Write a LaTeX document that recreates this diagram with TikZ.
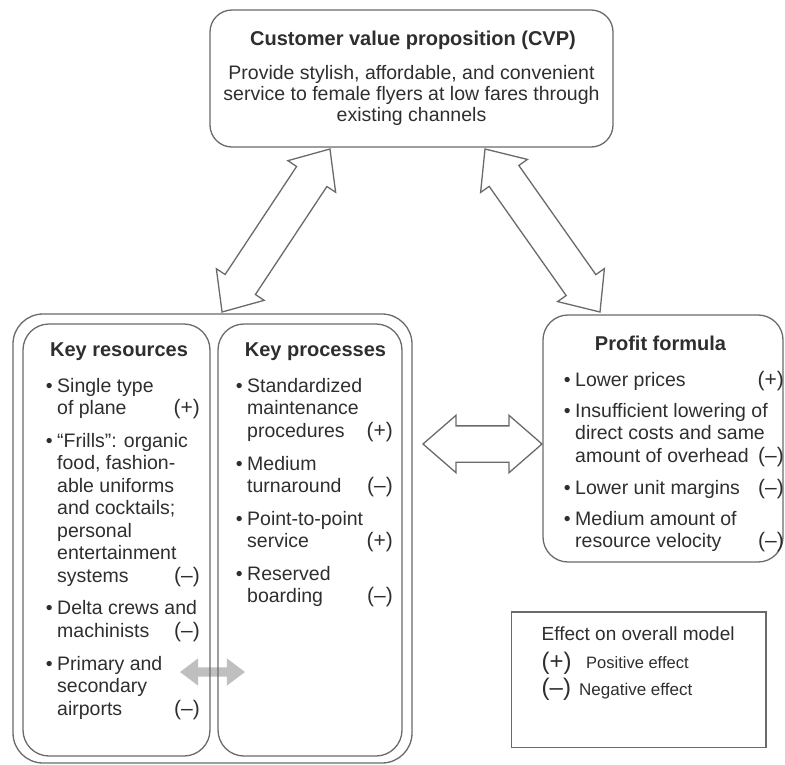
\documentclass[tikz,border=0pt]{standalone}
\usepackage{fontspec}
\setmainfont{Liberation Sans}
\usetikzlibrary{shapes.arrows}

% text colour and outline colour of the model
\definecolor{ink}{HTML}{2E2E2E}
\definecolor{rim}{HTML}{6A6A6A}

\tikzset{
  panel/.style={draw=rim, line width=1.3pt, rectangle, rounded corners=#1, inner sep=0pt},
  blockarrow/.style={double arrow, draw=rim, line width=1.3pt, fill=white,
    inner xsep=0pt, inner ysep=17.5pt,
    minimum width=56pt, double arrow head extend=10.5pt, double arrow tip angle=82},
  linkarrow/.style={double arrow, draw=none, fill=black!25,
    inner xsep=0pt, inner ysep=4.5pt,
    minimum width=27pt, double arrow head extend=9pt, double arrow tip angle=74},
  txt/.style={anchor=base west, inner sep=0pt, text=ink, font=\fontsize{19.5}{22}\selectfont},
  ctr/.style={anchor=base, inner sep=0pt, text=ink, font=\fontsize{19.5}{22}\selectfont},
  ttl/.style={anchor=base, inner sep=0pt, text=ink, font=\fontsize{20}{24}\selectfont\bfseries},
  mk/.style={anchor=base east, inner sep=0pt, text=ink, font=\fontsize{21}{24}\selectfont},
  bul/.style={anchor=base east, inner sep=0pt, xshift=-4pt, text=ink, font=\fontsize{19.5}{22}\selectfont},
}

% bullet item: name, x, baseline y, text
\newcommand\bitem[4]{%
  \node[bul] (#1b) at (#2,#3) {\textbullet};
  \node[txt] (#1) at (#2,#3) {#4};}

\begin{document}
\begin{tikzpicture}[x=1pt,y=-1pt]
\useasboundingbox (0,0) rectangle (785,764);

% light link between resources and processes (drawn under the frames)
\node[linkarrow, minimum height=65pt] (link) at (212.5,672) {};

% frames
\node[panel=22pt, minimum width=403pt, minimum height=137pt] (cvp) at (411.5,78.5) {};
\node[panel=30pt, minimum width=399pt, minimum height=449pt] (outer) at (212.5,538.5) {};
\node[panel=26pt, minimum width=187pt, minimum height=432pt] (res) at (116.5,540) {};
\node[panel=26pt, minimum width=184pt, minimum height=432pt] (proc) at (310,540) {};
\node[panel=25pt, minimum width=240pt, minimum height=247pt] (profit) at (663,438.5) {};
\node[draw=rim, line width=1.2pt, rectangle, inner sep=0pt,
      minimum width=254.5pt, minimum height=135.5pt] (legend) at (638.75,679.75) {};

% block arrows between the parts of the model
\node[blockarrow, minimum height=195.5pt, rotate=56.5] (cvpres) at (276,230.5) {};
\node[blockarrow, minimum height=199.5pt, rotate=-54.8] (cvpprofit) at (542.5,230.5) {};
\node[blockarrow, minimum height=119pt] (resprofit) at (482.5,444) {};

% customer value proposition
\node[ttl] (cvpt) at (413,45) {Customer value proposition (CVP)};
\node[ctr] (cvp1) at (411.5,79) {Provide stylish, affordable, and convenient};
\node[ctr] (cvp2) at (411.5,100) {service to female flyers at low fares through};
\node[ctr] (cvp3) at (411.5,121) {existing channels};

% key resources
\node[ttl] (rest) at (119,356) {Key resources};
\bitem{r1}{57}{392}{Single type}
\node[txt] (r2) at (57,414.5) {of plane};
\node[mk] (r2m) at (200,414.5) {(+)};
\bitem{r3}{57}{447}{“Frills”: organic}
\node[txt] (r4) at (57,469.5) {food, fashion-};
\node[txt] (r5) at (57,492) {able uniforms};
\node[txt] (r6) at (57,514.5) {and cocktails;};
\node[txt] (r7) at (57,537) {personal};
\node[txt] (r8) at (57,559.5) {entertainment};
\node[txt] (r9) at (57,582) {systems};
\node[mk] (r9m) at (200,582) {(–)};
\bitem{r10}{57}{614.5}{Delta crews and}
\node[txt] (r11) at (57,637) {machinists};
\node[mk] (r11m) at (200,637) {(–)};
\bitem{r12}{57}{670}{Primary and}
\node[txt] (r13) at (57,692.5) {secondary};
\node[txt] (r14) at (57,715) {airports};
\node[mk] (r14m) at (200,715) {(–)};

% key processes
\node[ttl] (proct) at (315.5,356) {Key processes};
\bitem{p1}{247}{392}{Standardized}
\node[txt] (p2) at (247,414.5) {maintenance};
\node[txt] (p3) at (247,437) {procedures};
\node[mk] (p3m) at (393,437) {(+)};
\bitem{p4}{247}{470}{Medium}
\node[txt] (p5) at (247,492.5) {turnaround};
\node[mk] (p5m) at (393,492.5) {(–)};
\bitem{p6}{247}{525}{Point-to-point}
\node[txt] (p7) at (247,547.5) {service};
\node[mk] (p7m) at (393,547.5) {(+)};
\bitem{p8}{247}{580}{Reserved}
\node[txt] (p9) at (247,602.5) {boarding};
\node[mk] (p9m) at (393,602.5) {(–)};

% profit formula
\node[ttl] (proft) at (660.5,350) {Profit formula};
\bitem{f1}{575}{386}{Lower prices}
\node[mk] (f1m) at (784,386) {(+)};
\bitem{f2}{575}{417}{Insufficient lowering of}
\node[txt] (f3) at (575,439.5) {direct costs and same};
\node[txt] (f4) at (575,462) {amount of overhead};
\node[mk] (f4m) at (784,462) {(–)};
\bitem{f5}{575}{494}{Lower unit margins}
\node[mk] (f5m) at (784,494) {(–)};
\bitem{f6}{575}{525}{Medium amount of}
\node[txt] (f7) at (575,547.5) {resource velocity};
\node[mk] (f7m) at (784,547.5) {(–)};

% legend
\node[txt, font=\fontsize{19}{22}\selectfont] (lgt) at (541.5,640) {Effect on overall model};
\node[txt, font=\fontsize{24}{26}\selectfont] (lgp) at (541.5,669) {(+)};
\node[txt, font=\fontsize{16.5}{20}\selectfont] (lgpt) at (586,668) {Positive effect};
\node[txt, font=\fontsize{24}{26}\selectfont] (lgn) at (541.5,695) {(–)};
\node[txt, font=\fontsize{17}{20}\selectfont] (lgnt) at (579,695) {Negative effect};
\end{tikzpicture}
\end{document}
